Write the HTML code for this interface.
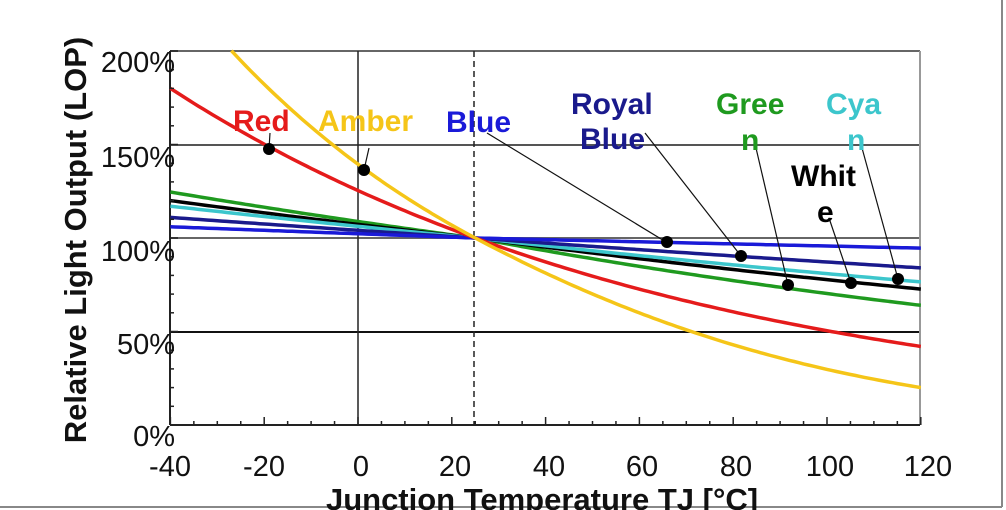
<!DOCTYPE html>
<html><head><meta charset="utf-8"><style>
html,body{margin:0;padding:0;background:#fff;width:1006px;height:510px;overflow:hidden}
svg{display:block}
text{font-family:"Liberation Sans",Arial,sans-serif}
</style></head><body>
<svg id="s" width="1006" height="510" viewBox="0 0 1006 510" xmlns="http://www.w3.org/2000/svg">
<rect x="0" y="0" width="1006" height="510" fill="#fff"/>
<line x1="1002" y1="0" x2="1002" y2="507" stroke="#888" stroke-width="2"/>
<line x1="0" y1="507" x2="1002" y2="507" stroke="#888" stroke-width="2"/>
<g id="grid">
<line x1="170" y1="51" x2="920" y2="51" stroke="#666" stroke-width="2"/>
<line x1="170" y1="145" x2="920" y2="145" stroke="#555" stroke-width="2"/>
<line x1="170" y1="238" x2="920" y2="238" stroke="#666" stroke-width="2"/>
<line x1="170" y1="332" x2="920" y2="332" stroke="#111" stroke-width="2"/>
<line x1="920" y1="51" x2="920" y2="425" stroke="#999" stroke-width="2"/>
<line x1="358" y1="51" x2="358" y2="425" stroke="#222" stroke-width="1.5"/>
<line x1="474" y1="51" x2="474" y2="425" stroke="#222" stroke-width="1.5" stroke-dasharray="6,4"/>
<line x1="170" y1="51" x2="170" y2="425" stroke="#222" stroke-width="2"/>
<line x1="170" y1="425" x2="920" y2="425" stroke="#222" stroke-width="2"/>
</g>
<g id="curves" fill="none" stroke-width="3.5"></g>
<g id="ticks" stroke="#222" stroke-width="1.5"></g>
<g stroke="#111" stroke-width="1.2">
<line x1="270" y1="133" x2="269" y2="149"/>
<line x1="369" y1="148" x2="364" y2="170"/>
<line x1="487" y1="133" x2="666" y2="242"/>
<line x1="645" y1="133" x2="741" y2="256"/>
<line x1="756" y1="148" x2="788" y2="285"/>
<line x1="829" y1="218" x2="851" y2="283"/>
<line x1="862" y1="148" x2="898" y2="279"/>
</g>
<g fill="#000">
<circle cx="269" cy="149" r="6"/><circle cx="364" cy="170" r="6"/><circle cx="667" cy="242" r="6"/>
<circle cx="741" cy="256" r="6"/><circle cx="788" cy="285" r="6"/><circle cx="851" cy="283" r="6"/><circle cx="898" cy="279" r="6"/>
</g>
<g font-weight="bold" font-size="30">
<text x="233" y="131" fill="#e51b1b">Red</text>
<text x="318" y="131" fill="#f5c518">Amber</text>
<text x="446" y="132" fill="#1a1ad8">Blue</text>
<text x="571" y="114" fill="#1a1a8c">Royal</text>
<text x="580" y="149" fill="#1a1a8c">Blue</text>
<text x="716" y="114" fill="#1f9a1f">Gree</text>
<text x="741" y="150" fill="#1f9a1f">n</text>
<text x="826" y="114" fill="#3cc6cc">Cya</text>
<text x="847" y="150" fill="#3cc6cc">n</text>
<text x="791" y="186" fill="#000">Whit</text>
<text x="817" y="222" fill="#000">e</text>
</g>
<g font-size="29" fill="#111" text-anchor="end">
<text x="175" y="72">200%</text>
<text x="175" y="167">150%</text>
<text x="175" y="261">100%</text>
<text x="175" y="354">50%</text>
<text x="175" y="446">0%</text>
</g>
<g font-size="29" fill="#111" text-anchor="middle">
<text x="170" y="476">-40</text><text x="264" y="476">-20</text><text x="361" y="476">0</text>
<text x="455" y="476">20</text><text x="549" y="476">40</text><text x="642" y="476">60</text>
<text x="736" y="476">80</text><text x="830" y="476">100</text><text x="928" y="476">120</text>
</g>
<text x="542" y="510" font-size="31" font-weight="bold" text-anchor="middle" fill="#111">Junction Temperature TJ [°C]</text>
<text transform="translate(86,240) rotate(-90)" font-size="31" font-weight="bold" text-anchor="middle" fill="#111">Relative Light Output (LOP)</text>
</svg>
<script>
(function(){
var X=function(t){return 358+t*4.69;},Y=function(v){return 425-v*1.87;};
var NS="http://www.w3.org/2000/svg";
function kk(vl,vr){return [Math.log(vl/100)/65, Math.log(100/vr)/95];}
var cs=[
 ["#1f9a1f",kk(124.6,64)],
 ["#000",kk(120,72.7)],
 ["#3cc6cc",kk(117,76.5)],
 ["#1a1a8c",kk(111,84)],
 ["#1a1ad8",kk(106,94.6)],
 ["#e51b1b",kk(180,42)]
];
var g=document.getElementById("curves");
function add(col,f,t0){var d="";for(var t=t0;t<=120.01;t+=1){var v=f(t);d+=(d?"L":"M")+X(t).toFixed(1)+","+Y(v).toFixed(1);}
 var p=document.createElementNS(NS,"path");p.setAttribute("d",d);p.setAttribute("stroke",col);g.appendChild(p);}
cs.forEach(function(c){add(c[0],function(t){var d=t-25;return 100*Math.exp(d<0?-c[1][0]*d:-c[1][1]*d);},-40);});
add("#f5c518",function(t){var d=t-25;return 100*Math.exp(-0.01327*d-0.0000386*d*d+(d<0?0.00004*d*d:0));},-27);
var tk=document.getElementById("ticks");
function ln(a,b,c,e){var l=document.createElementNS(NS,"line");l.setAttribute("x1",a);l.setAttribute("y1",b);l.setAttribute("x2",c);l.setAttribute("y2",e);tk.appendChild(l);}
for(var t=-40;t<=120;t+=5){var big=(t%20==0);ln(X(t),425,X(t),425-(big?8:4));}
for(var v=0;v<=200;v+=10){var big=(v%50==0);ln(170,Y(v),170+(big?8:4),Y(v));}
})();
</script>
</body></html>
